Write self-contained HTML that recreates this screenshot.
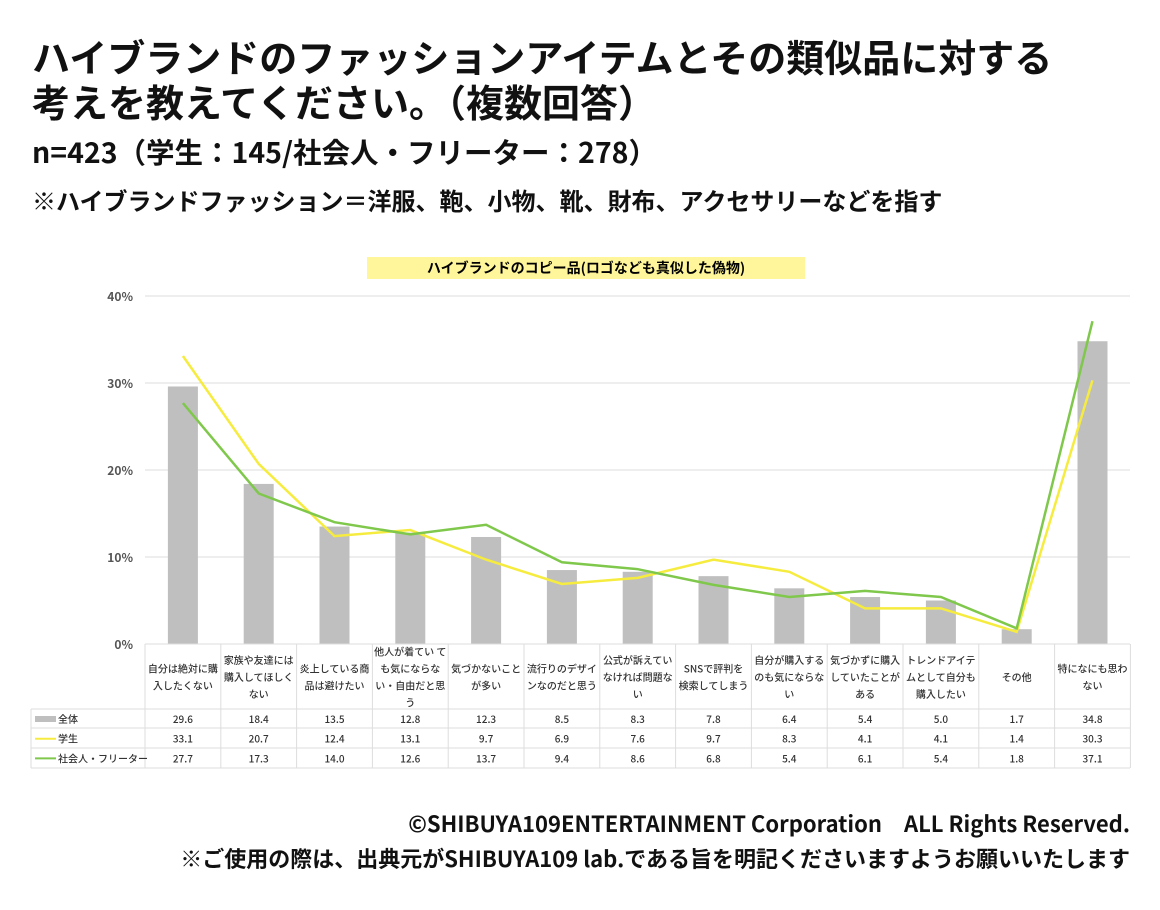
<!DOCTYPE html><html><head><meta charset="utf-8"><style>
body{margin:0;width:1160px;height:910px;background:#fff;font-family:"Noto Sans CJK JP","Liberation Sans",sans-serif;overflow:hidden}
.t{position:absolute;left:32px;font-weight:bold;color:#111;white-space:nowrap}
</style></head><body>
<div class="t" style="top:33px;font-size:38px;line-height:45px">ハイブランドのファッションアイテムとその類似品に対する<br>考えを教えてください。<span style="letter-spacing:0">（</span>複数回答）</div>
<div class="t" style="top:132px;font-size:28.5px;line-height:40px">n=423（学生：145/社会人・フリーター：278）</div>
<div class="t" style="top:183px;font-size:24px;line-height:34px">※ハイブランドファッション＝洋服、鞄、小物、靴、財布、アクセサリーなどを指す</div>
<div class="t" style="top:808px;left:auto;right:30px;font-size:22px;line-height:30px">©SHIBUYA109ENTERTAINMENT Corporation　ALL Rights Reserved.</div>
<div class="t" style="top:843px;left:auto;right:30px;font-size:22px;line-height:30px">※ご使用の際は、出典元がSHIBUYA109 lab.である旨を明記くださいますようお願いいたします</div>
<svg id="s" width="1160" height="910" style="position:absolute;left:0;top:0" font-family="Noto Sans CJK JP,Liberation Sans,sans-serif"></svg>
<script>
const A=[29.6,18.4,13.5,12.8,12.3,8.5,8.3,7.8,6.4,5.4,5.0,1.7,34.8],
S=[33.1,20.7,12.4,13.1,9.7,6.9,7.6,9.7,8.3,4.1,4.1,1.4,30.3],
W=[27.7,17.3,14.0,12.6,13.7,9.4,8.6,6.8,5.4,6.1,5.4,1.8,37.1],
C=[["自分は絶対に購","入したくない"],["家族や友達には","購入してほしく","ない"],["炎上している商","品は避けたい"],["他人が着てい て","も気にならな","い・自由だと思","う"],["気づかないこと","が多い"],["流行りのデザイ","ンなのだと思う"],["公式が訴えてい","なければ問題な","い"],["SNSで評判を","検索してしまう"],["自分が購入する","のも気にならな","い"],["気づかずに購入","していたことが","ある"],["トレンドアイテ","ムとして自分も","購入したい"],["その他"],["特になにも思わ","ない"]];
const x0=145,cw=75.8,y=v=>644-v*8.7,cx=i=>x0+cw*(i+.5);
let h='<rect x="367" y="257" width="438" height="22" fill="#fff59a"/><text x="586" y="273" font-size="14" font-weight="bold" text-anchor="middle">ハイブランドのコピー品(ロゴなども真似した偽物)</text>';
for(let k=0;k<=4;k++){let yy=y(k*10);h+=`<line x1="145" x2="1130" y1="${yy}" y2="${yy}" stroke="#ddd"/><text x="133" y="${yy+5}" font-size="12" font-weight="bold" fill="#555" text-anchor="end">${k*10}%</text>`;}
A.forEach((v,i)=>h+=`<rect x="${cx(i)-15}" y="${y(v)}" width="30" height="${v*8.7}" fill="#bfbfbf"/>`);
const pl=(d,c)=>`<polyline fill="none" stroke="${c}" stroke-width="2.5" points="${d.map((v,i)=>cx(i)+','+y(v)).join(' ')}"/>`;
h+=pl(S,'#f6ec3f')+pl(W,'#7fc84c');
h+=`<g stroke="#ddd" fill="none"><line x1="145" x2="1130" y1="644" y2="644"/>`;
[709,728,748,768].forEach(yy=>h+=`<line x1="31" x2="1130" y1="${yy}" y2="${yy}"/>`);
h+=`<line x1="31" x2="31" y1="709" y2="768"/>`;
for(let i=0;i<=13;i++)h+=`<line x1="${x0+cw*i}" x2="${x0+cw*i}" y1="644" y2="768"/>`;
h+='</g>';
C.forEach((l,i)=>{let n=l.length,st=677-(n-1)*8.5;l.forEach((t,j)=>h+=`<text x="${cx(i)}" y="${st+j*17+4}" font-size="10" font-weight="500" text-anchor="middle" fill="#333">${t}</text>`);});
[[A,'全体','#bfbfbf',6],[S,'学生','#f6ec3f',2],[W,'社会人・フリーター','#7fc84c',2]].forEach(([d,n,c,sw],r)=>{let yy=719+r*19.7;
h+=`<line x1="35" x2="56" y1="${yy}" y2="${yy}" stroke="${c}" stroke-width="${sw}"/><text x="58" y="${yy+4}" font-size="10" font-weight="500" fill="#333">${n}</text>`;
d.forEach((v,i)=>h+=`<text x="${cx(i)}" y="${yy+4}" font-size="10" font-weight="500" text-anchor="middle" fill="#333">${v.toFixed(1)}</text>`);});
document.getElementById('s').innerHTML=h;
</script></body></html>
